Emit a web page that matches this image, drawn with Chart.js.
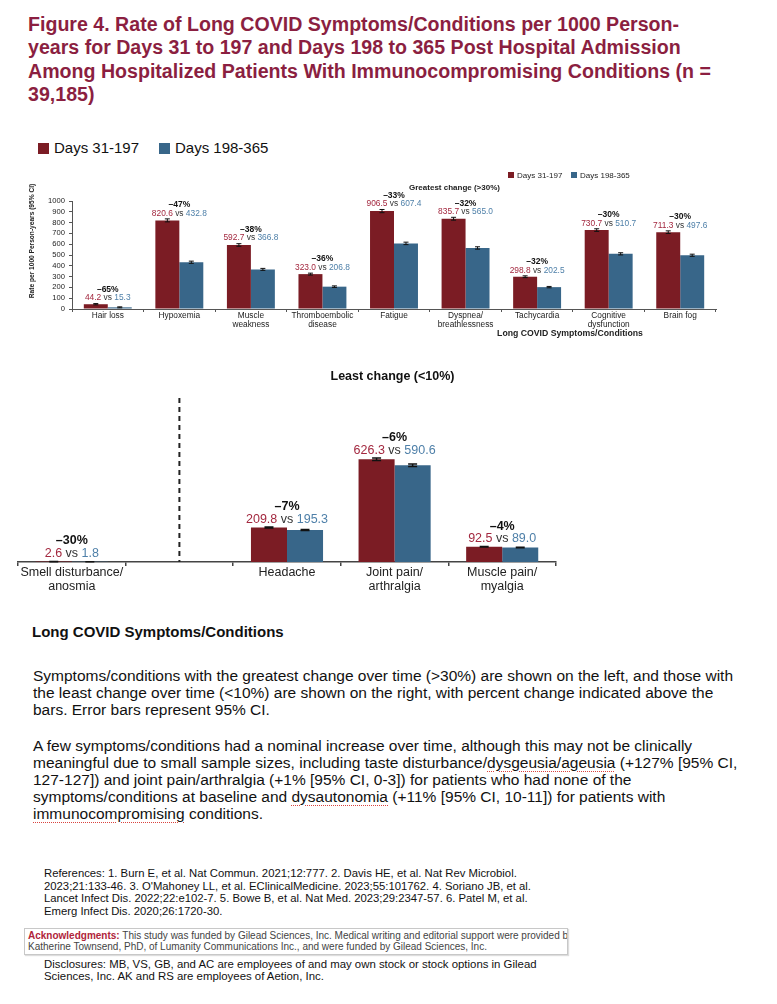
<!DOCTYPE html>
<html>
<head>
<meta charset="utf-8">
<script src="https://cdn.jsdelivr.net/npm/chart.js"></script>
<style>
  body { margin: 0; background: #fff; }
  #pagina { position: relative; width: 777px; height: 1004px; overflow: hidden; font-family: "Liberation Sans", Arial, sans-serif; color: #111; }
  .abs { position: absolute; white-space: nowrap; }
  #titulo { left: 28px; top: 13px; font-size: 19.6px; line-height: 23.3px; font-weight: bold; color: #8b1f41; }
  .cuadro { position: absolute; width: 11px; height: 11px; }
  .leyenda { font-size: 15px; line-height: 15px; color: #111; }
  #encabezado { left: 32px; top: 623px; font-size: 15px; line-height: 17px; font-weight: bold; color: #111; }
  .parrafo { left: 33px; font-size: 15.5px; line-height: 17px; color: #111; }
  .error { text-decoration: underline dotted #d9443f; text-underline-offset: 3px; text-decoration-thickness: 1px; }
  #referencias { left: 44px; top: 867px; font-size: 11.3px; line-height: 12.5px; color: #111; }
  #agradecimientos { left: 24px; top: 928px; width: 539px; height: 24px; border: 1px solid #c8c8c8; box-shadow: 1px 1px 1px #ddd; overflow: hidden; font-size: 10px; line-height: 11px; color: #444; padding: 1px 0 0 3px; }
  #agradecimientos b { color: #b0243a; }
  #divulgacion { left: 44px; top: 958px; font-size: 11.4px; line-height: 12px; color: #111; }
  canvas { position: absolute; left: 0; }
</style>
</head>
<body>
<div id="pagina">
  <div id="titulo" class="abs">Figure 4. Rate of Long COVID Symptoms/Conditions per 1000 Person-<br>years for Days 31 to 197 and Days 198 to 365 Post Hospital Admission<br>Among Hospitalized Patients With Immunocompromising Conditions (n =<br>39,185)</div>

  <div class="cuadro" style="left:38px; top:143px; background:#7b1c24;"></div>
  <div class="abs leyenda" style="left:54px; top:140px;">Days 31-197</div>
  <div class="cuadro" style="left:159px; top:143px; background:#386689;"></div>
  <div class="abs leyenda" style="left:175px; top:140px;">Days 198-365</div>

  <canvas id="graficoMayor" width="777" height="190" style="top:160px; width:777px; height:190px;"></canvas>
  <canvas id="graficoMenor" width="777" height="240" style="top:360px; width:777px; height:240px;"></canvas>

  <div id="encabezado" class="abs">Long COVID Symptoms/Conditions</div>

  <div class="abs parrafo" style="top:667px;">Symptoms/conditions with the greatest change over time (&gt;30%) are shown on the left, and those with<br>the least change over time (&lt;10%) are shown on the right, with percent change indicated above the<br>bars. Error bars represent 95% CI.</div>

  <div class="abs parrafo" style="top:737px;">A few symptoms/conditions had a nominal increase over time, although this may not be clinically<br>meaningful due to small sample sizes, including taste disturbance/<span class="error">dysgeusia/ageusia</span> (+127% [95% CI,<br>127-127]) and joint pain/arthralgia (+1% [95% CI, 0-3]) for patients who had none of the<br>symptoms/conditions at baseline and <span class="error">dysautonomia</span> (+11% [95% CI, 10-11]) for patients with<br><span class="error">immunocompromising</span> conditions.</div>

  <div id="referencias" class="abs">References: 1. Burn E, et al. Nat Commun. 2021;12:777. 2. Davis HE, et al. Nat Rev Microbiol.<br>2023;21:133-46. 3. O'Mahoney LL, et al. EClinicalMedicine. 2023;55:101762. 4. Soriano JB, et al.<br>Lancet Infect Dis. 2022;22:e102-7. 5. Bowe B, et al. Nat Med. 2023;29:2347-57. 6. Patel M, et al.<br>Emerg Infect Dis. 2020;26:1720-30.</div>

  <div id="agradecimientos" class="abs"><b>Acknowledgments:</b> This study was funded by Gilead Sciences, Inc. Medical writing and editorial support were provided by<br>Katherine Townsend, PhD, of Lumanity Communications Inc., and were funded by Gilead Sciences, Inc.</div>

  <div id="divulgacion" class="abs">Disclosures: MB, VS, GB, and AC are employees of and may own stock or stock options in Gilead<br>Sciences, Inc. AK and RS are employees of Aetion, Inc.</div>
</div>

<script>
// Datos: mayor cambio (>30%)
const categoriasMayor = ['Hair loss', 'Hypoxemia', ['Muscle', 'weakness'], ['Thromboembolic', 'disease'], 'Fatigue', ['Dyspnea/', 'breathlessness'], 'Tachycardia', ['Cognitive', 'dysfunction'], 'Brain fog'];
const inicialMayor = [44.2, 820.6, 592.7, 323.0, 906.5, 835.7, 298.8, 730.7, 711.3];
const finalMayor = [15.3, 432.8, 366.8, 206.8, 607.4, 565.0, 202.5, 510.7, 497.6];
const cambioMayor = ['–65%', '–47%', '–38%', '–36%', '–33%', '–32%', '–32%', '–30%', '–30%'];
const inicialBajoMayor = [38.5, 806.8, 580.6, 314.3, 891.8, 822.5, 290.6, 718.6, 699.1];
const inicialAltoMayor = [50.3, 834.6, 605.0, 331.9, 921.3, 849.1, 307.2, 742.9, 723.6];
const finalBajoMayor = [11.0, 422.6, 357.9, 199.6, 596.1, 554.0, 196.3, 500.6, 487.7];
const finalAltoMayor = [20.1, 443.2, 375.9, 214.1, 618.9, 576.1, 208.8, 520.9, 507.6];
const ticksY = [0, 100, 200, 300, 400, 500, 600, 700, 800, 900, 1000];

// Datos: menor cambio (<10%)
const categoriasMenor = [['Smell disturbance/', 'anosmia'], '', 'Headache', ['Joint pain/', 'arthralgia'], ['Muscle pain/', 'myalgia']];
const inicialMenor = [2.6, null, 209.8, 626.3, 92.5];
const finalMenor = [1.8, null, 195.3, 590.6, 89.0];
const cambioMenor = ['–30%', '', '–7%', '–6%', '–4%'];
const inicialBajoMenor = [2.2, null, 206.6, 619.0, 91.0];
const inicialAltoMenor = [3.0, null, 213.0, 633.6, 94.0];
const finalBajoMenor = [1.4, null, 192.2, 583.0, 87.6];
const finalAltoMenor = [2.2, null, 198.4, 598.2, 90.4];

const ROJO = '#7b1c24';
const AZUL = '#386689';
const ROJO_TEXTO = '#a3283f';
const AZUL_TEXTO = '#4f80a9';
const FUENTE = '"Liberation Sans", Arial, sans-serif';

Chart.defaults.font.family = FUENTE;
Chart.defaults.color = '#222';

// Dibuja barras de error y etiquetas encima de cada par
function pluginEtiquetas(id, bajos, altos, inicial, final, cambio, estilo) {
    return {
        id: id,
        afterDatasetsDraw(chart) {
            const ctx = chart.ctx;
            const escalaY = chart.scales.y;
            ctx.save();
            // barras de error
            [0, 1].forEach(function (d) {
                const meta = chart.getDatasetMeta(d);
                meta.data.forEach(function (barra, i) {
                    if (bajos[d][i] === null) return;
                    const x = barra.x;
                    const y1 = escalaY.getPixelForValue(bajos[d][i]);
                    const y2 = escalaY.getPixelForValue(altos[d][i]);
                    ctx.strokeStyle = '#111';
                    ctx.lineWidth = estilo.grosor;
                    ctx.beginPath();
                    ctx.moveTo(x, y1); ctx.lineTo(x, y2);
                    ctx.moveTo(x - estilo.tapa, y1); ctx.lineTo(x + estilo.tapa, y1);
                    ctx.moveTo(x - estilo.tapa, y2); ctx.lineTo(x + estilo.tapa, y2);
                    ctx.stroke();
                });
            });
            // etiquetas
            const escalaX = chart.scales.x;
            inicial.forEach(function (v, i) {
                if (v === null) return;
                const cx = escalaX.getPixelForValue(i);
                const tope = escalaY.getPixelForValue(Math.max(altos[0][i], altos[1][i]));
                const yNum = tope - estilo.sepNum;
                const yPct = yNum - estilo.sepPct;
                ctx.textBaseline = 'middle';
                ctx.textAlign = 'center';
                ctx.fillStyle = '#111';
                ctx.font = 'bold ' + estilo.tam + 'px ' + FUENTE;
                ctx.fillText(cambio[i], cx, yPct);
                ctx.font = estilo.tamNum + 'px ' + FUENTE;
                const partes = [
                    { t: v.toFixed(1), c: ROJO_TEXTO },
                    { t: ' vs ', c: '#333' },
                    { t: final[i].toFixed(1), c: AZUL_TEXTO }
                ];
                const total = partes.reduce((s, p) => s + ctx.measureText(p.t).width, 0);
                let x = cx - total / 2;
                ctx.textAlign = 'left';
                partes.forEach(function (p) {
                    ctx.fillStyle = p.c;
                    ctx.fillText(p.t, x, yNum);
                    x += ctx.measureText(p.t).width;
                });
            });
            ctx.restore();
        }
    };
}

// Textos sueltos del gráfico superior (leyenda pequeña, subtítulo, títulos de ejes)
const textosMayor = {
    id: 'textosMayor',
    afterDraw(chart) {
        const ctx = chart.ctx;
        ctx.save();
        ctx.textBaseline = 'middle';
        ctx.fillStyle = ROJO; ctx.fillRect(508, 12, 6, 6);
        ctx.fillStyle = AZUL; ctx.fillRect(571, 12, 6, 6);
        ctx.fillStyle = '#222';
        ctx.font = '8px ' + FUENTE;
        ctx.textAlign = 'left';
        ctx.fillText('Days 31-197', 517, 15.5);
        ctx.fillText('Days 198-365', 580, 15.5);
        ctx.font = 'bold 8px ' + FUENTE;
        ctx.textAlign = 'center';
        ctx.fillText('Greatest change (>30%)', 454.5, 28);
        ctx.font = 'bold 8.7px ' + FUENTE;
        ctx.fillText('Long COVID Symptoms/Conditions', 570, 174);
        // título del eje y
        ctx.translate(32, 81);
        ctx.rotate(-Math.PI / 2);
        ctx.font = 'bold 6.6px ' + FUENTE;
        ctx.fillText('Rate per 1000 Person-years (95% CI)', 0, 0);
        ctx.restore();
    }
};

const textosMenor = {
    id: 'textosMenor',
    beforeDatasetsDraw(chart) {
        const ctx = chart.ctx;
        const area = chart.chartArea;
        const x = chart.scales.x.getPixelForValue(1);
        ctx.save();
        ctx.strokeStyle = '#222';
        ctx.lineWidth = 2;
        ctx.setLineDash([5, 4]);
        ctx.beginPath();
        ctx.moveTo(x, area.top); ctx.lineTo(x, area.bottom);
        ctx.stroke();
        ctx.restore();
    },
    afterDraw(chart) {
        const ctx = chart.ctx;
        ctx.save();
        ctx.fillStyle = '#111';
        ctx.textAlign = 'center';
        ctx.textBaseline = 'middle';
        ctx.font = 'bold 12.5px ' + FUENTE;
        ctx.fillText('Least change (<10%)', 392.5, 17);
        ctx.restore();
    }
};

function conjuntos(inicial, final) {
    return [
        { label: 'Days 31-197', data: inicial, backgroundColor: ROJO, categoryPercentage: 0.67, barPercentage: 1.0 },
        { label: 'Days 198-365', data: final, backgroundColor: AZUL, categoryPercentage: 0.67, barPercentage: 1.0 }
    ];
}

// Gráfico superior
new Chart(document.getElementById('graficoMayor'), {
    type: 'bar',
    data: { labels: categoriasMayor, datasets: conjuntos(inicialMayor, finalMayor) },
    options: {
        responsive: false,
        animation: false,
        devicePixelRatio: 1,
        layout: { padding: { left: 24, right: 61, top: 41, bottom: 0 } },
        plugins: { legend: { display: false }, tooltip: { enabled: false } },
        scales: {
            x: {
                grid: { drawOnChartArea: false, tickLength: 3, color: '#555', offset: true },
                border: { color: '#555', width: 1 },
                ticks: { font: { size: 8.3, lineHeight: 1 }, color: '#222', padding: 0, maxRotation: 0, autoSkip: false },
                afterFit(escala) { escala.height = 41; }
            },
            y: {
                min: 0, max: 1000,
                afterBuildTicks(escala) { escala.ticks = ticksY.map(v => ({ value: v })); },
                ticks: { font: { size: 7.6 }, color: '#222', padding: 4, autoSkip: false, callback: v => String(v) },
                grid: { drawOnChartArea: false, tickLength: 3, color: '#555' },
                border: { color: '#555', width: 1 },
                afterFit(escala) { escala.width = 48; }
            }
        }
    },
    plugins: [
        textosMayor,
        pluginEtiquetas('etiquetasMayor', [inicialBajoMayor, finalBajoMayor], [inicialAltoMayor, finalAltoMayor],
            inicialMayor, finalMayor, cambioMayor,
            { grosor: 1, tapa: 2.5, sepNum: 5.5, sepPct: 8.5, tam: 8.5, tamNum: 8.4 })
    ]
});

// Gráfico inferior
new Chart(document.getElementById('graficoMenor'), {
    type: 'bar',
    data: { labels: categoriasMenor, datasets: conjuntos(inicialMenor, finalMenor) },
    options: {
        responsive: false,
        animation: false,
        devicePixelRatio: 1,
        layout: { padding: { left: 18, right: 221, top: 38, bottom: 0 } },
        plugins: { legend: { display: false }, tooltip: { enabled: false } },
        scales: {
            x: {
                grid: { drawOnChartArea: false, tickLength: 4, color: '#444', lineWidth: 1.5, offset: true },
                border: { color: '#444', width: 1.5 },
                ticks: { font: { size: 12.5, lineHeight: 1.12 }, color: '#222', padding: 0, maxRotation: 0, autoSkip: false },
                afterFit(escala) { escala.height = 38; }
            },
            y: { display: false, min: 0, max: 1000 }
        }
    },
    plugins: [
        textosMenor,
        pluginEtiquetas('etiquetasMenor', [inicialBajoMenor, finalBajoMenor], [inicialAltoMenor, finalAltoMenor],
            inicialMenor, finalMenor, cambioMenor,
            { grosor: 1.5, tapa: 4.5, sepNum: 8, sepPct: 12.5, tam: 12.5, tamNum: 12.5 })
    ]
});
</script>
</body>
</html>
